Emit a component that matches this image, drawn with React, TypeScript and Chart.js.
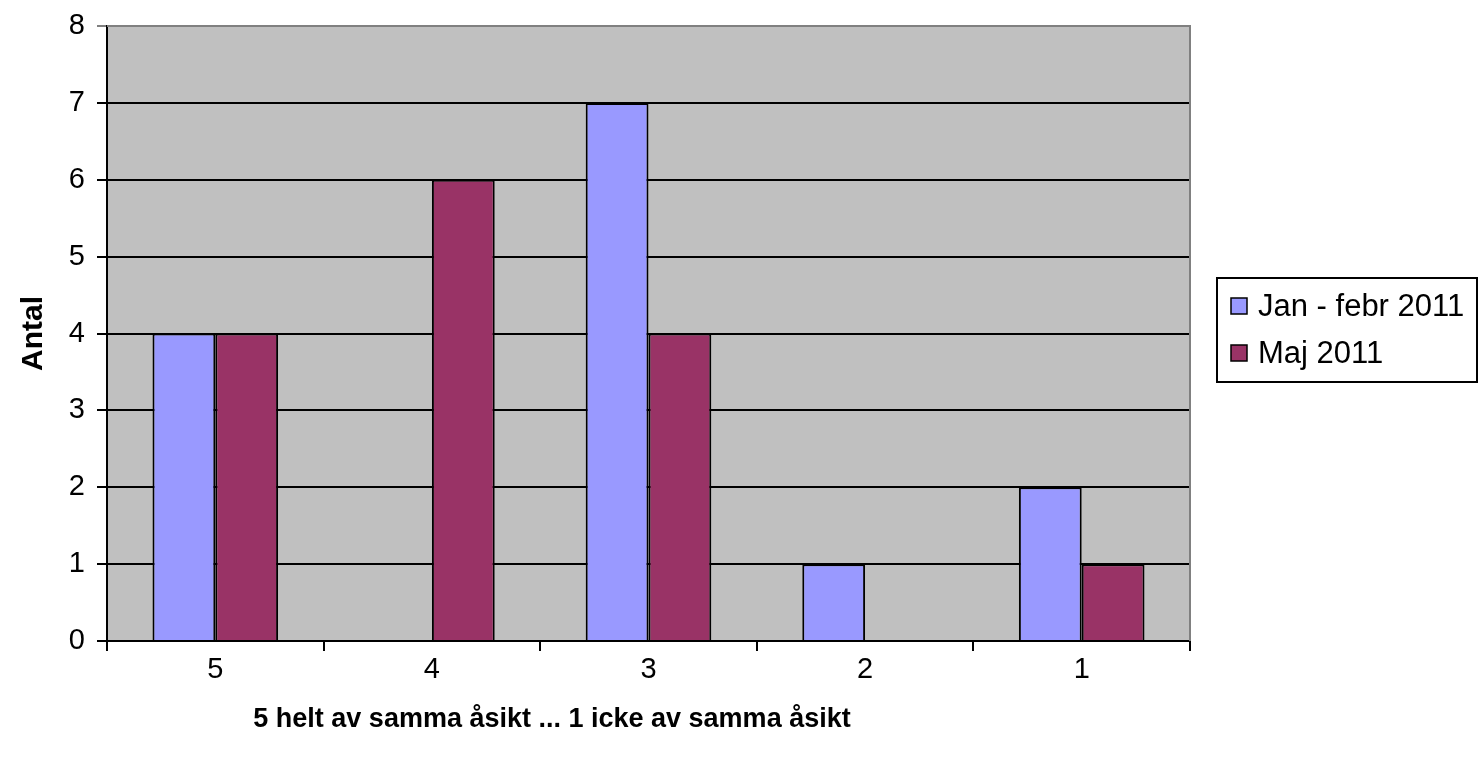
import React, { useEffect, useRef } from "react";
import { Chart, registerables } from "chart.js";

Chart.register(...registerables);

const categories = ["5", "4", "3", "2", "1"];
const seriesNames = ["Jan - febr 2011", "Maj 2011"];
const janFebr = [4, 0, 7, 1, 2];
const maj = [4, 6, 4, 0, 1];
const seriesColors = ["#9999FF", "#993366"];
const yTitle = "Antal";
const xTitle = "5 helt av samma åsikt ... 1 icke av samma åsikt";

const FONT = "'Liberation Sans', Arial, sans-serif";

const plotBg = {
  id: "plotBg",
  beforeDraw(chart: any) {
    const { ctx, chartArea } = chart;
    ctx.save();
    ctx.fillStyle = "#C0C0C0";
    ctx.fillRect(chartArea.left, chartArea.top, chartArea.right - chartArea.left, chartArea.bottom - chartArea.top);
    ctx.restore();
  },
  afterDatasetsDraw(chart: any) {
    const { ctx, chartArea } = chart;
    ctx.save();
    ctx.strokeStyle = "#808080";
    ctx.lineWidth = 2;
    ctx.beginPath();
    ctx.moveTo(chartArea.left, chartArea.top);
    ctx.lineTo(chartArea.right, chartArea.top);
    ctx.lineTo(chartArea.right, chartArea.bottom);
    ctx.stroke();
    ctx.restore();
  },
};

const xTitlePlugin = {
  id: "xTitlePlugin",
  afterDraw(chart: any) {
    const { ctx } = chart;
    ctx.save();
    ctx.font = `bold 27px ${FONT}`;
    ctx.fillStyle = "#000";
    ctx.textAlign = "center";
    ctx.textBaseline = "middle";
    ctx.fillText(xTitle, 552, 720);
    ctx.restore();
  },
};

const boxLegend = {
  id: "boxLegend",
  afterDraw(chart: any) {
    const { ctx } = chart;
    const x0 = 1217, y0 = 278, w = 260, h = 104;
    ctx.save();
    ctx.fillStyle = "#FFFFFF";
    ctx.fillRect(x0, y0, w, h);
    ctx.strokeStyle = "#000000";
    ctx.lineWidth = 2;
    ctx.strokeRect(x0, y0, w, h);
    ctx.font = `31px ${FONT}`;
    ctx.textBaseline = "middle";
    chart.data.datasets.forEach((ds: any, i: number) => {
      const cy = y0 + 28 + i * 47;
      ctx.fillStyle = ds.backgroundColor;
      ctx.fillRect(x0 + 14, cy - 8, 16, 16);
      ctx.lineWidth = 1.5;
      ctx.strokeStyle = "#000";
      ctx.strokeRect(x0 + 14, cy - 8, 16, 16);
      ctx.fillStyle = "#000";
      ctx.fillText(ds.label, x0 + 41, cy + 1);
    });
    ctx.restore();
  },
};

export default function App() {
  const ref = useRef<HTMLCanvasElement | null>(null);
  useEffect(() => {
    if (!ref.current) return;
    const chart = new Chart(ref.current, {
      type: "bar",
      data: {
        labels: categories,
        datasets: [
          { label: seriesNames[0], data: janFebr, backgroundColor: seriesColors[0], borderColor: "#000", borderWidth: 2 },
          { label: seriesNames[1], data: maj, backgroundColor: seriesColors[1], borderColor: "#000", borderWidth: 2 },
        ],
      },
      options: {
        responsive: false,
        animation: false,
        maintainAspectRatio: false,
        layout: { padding: { left: 0, top: 26, right: 290, bottom: 0 } },
        datasets: { bar: { categoryPercentage: 0.58, barPercentage: 1.0 } } as any,
        plugins: { legend: { display: false }, tooltip: { enabled: false } },
        scales: {
          x: {
            grid: { display: true, drawOnChartArea: false, offset: true, color: "#000", lineWidth: 2, tickLength: 10 },
            border: { color: "#000", width: 2 },
            ticks: { color: "#000", font: { family: FONT, size: 29 }, padding: 2 },
            title: { display: false, text: xTitle },
            afterFit(scale: any) { scale.height = 119; },
          },
          y: {
            min: 0,
            max: 8,
            ticks: { stepSize: 1, color: "#000", font: { family: FONT, size: 29, lineHeight: 0.9 }, padding: 12 },
            grid: {
              color: (c: any) => (c.tick && c.tick.value === 8 ? "#808080" : "#000"),
              lineWidth: 2,
              tickLength: 10,
            },
            border: { color: "#000", width: 2 },
            title: { display: true, text: yTitle, color: "#000", font: { family: FONT, size: 30, weight: "bold" }, padding: { top: 16, bottom: 0 } },
            afterFit(scale: any) { scale.width = 107; },
          },
        },
      },
      plugins: [plotBg, boxLegend, xTitlePlugin],
    });
    return () => chart.destroy();
  }, []);
  return (
    <div style={{ position: "fixed", left: 0, top: 0, width: 1480, height: 760, background: "#fff" }}>
      <canvas ref={ref} width={1480} height={760} style={{ width: 1480, height: 760 }} />
    </div>
  );
}
